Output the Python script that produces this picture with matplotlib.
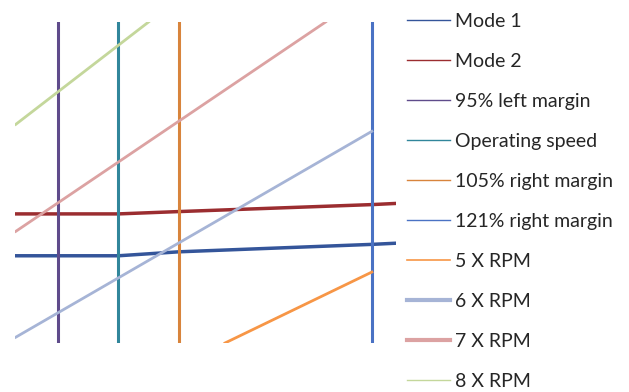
import matplotlib
matplotlib.use('Agg')
import matplotlib.pyplot as plt

# Campbell diagram data (speed in rpm, frequency in Hz)
mode_speed = [2745, 2850, 3000, 3150, 3630, 3690]
mode1_freq = [309.5, 309.5, 309.5, 311.2, 314.4, 314.9]
mode2_freq = [327.5, 327.5, 327.5, 328.5, 331.5, 332.0]

margin_labels = ["95% left margin", "Operating speed", "105% right margin", "121% right margin"]
margin_speed = [2850, 3000, 3150, 3630]

harm_labels = ["5 X RPM", "6 X RPM", "7 X RPM", "8 X RPM"]
harm_speed = [[3265, 3630], [2745, 3630], [2745, 3515], [2745, 3075]]
harm_freq = [[272.0, 302.5], [274.5, 363.0], [320.0, 410.0], [366.0, 410.0]]

freq_range = [272.0, 410.0]
speed_range = [2743, 3690]

mode_colors = ["#34559A", "#9B2D30"]
margin_colors = ["#5F4B8B", "#31869B", "#D8843C", "#4A72C4"]
harm_colors = ["#F79646", "#A6B4D6", "#DCA2A2", "#C4D79B"]

plt.rcParams['font.family'] = ['Lato', 'DejaVu Sans']

fig = plt.figure(figsize=(6.29, 3.92), dpi=100)
W, H = 629, 392
# plot area in pixels: x 15..396, y 22..343
ax = fig.add_axes([15 / W, (H - 343) / H, (396 - 15) / W, (343 - 22) / H])

ax.plot(mode_speed, mode1_freq, color=mode_colors[0], lw=2.5, label="Mode 1")
ax.plot(mode_speed, mode2_freq, color=mode_colors[1], lw=2.5, label="Mode 2")
for s, lab, c in zip(margin_speed, margin_labels, margin_colors):
    ax.plot([s, s], freq_range, color=c, lw=2.2, label=lab)
for xs, ys, lab, c in zip(harm_speed, harm_freq, harm_labels, harm_colors):
    ax.plot(xs, ys, color=c, lw=2.0, label=lab)

ax.set_xlim(speed_range)
ax.set_ylim(freq_range)
ax.axis('off')

leg = fig.legend(loc='upper left', bbox_to_anchor=(407 / W, 1 - 13 / H),
                 frameon=False, fontsize=14, handlelength=2.2, handletextpad=0.26,
                 labelspacing=1.18, borderaxespad=0, borderpad=0)
# legend line widths as in the original (thin, except 6X and 7X)
widths = [1, 1, 1, 1, 1, 1, 1.2, 3, 3, 1]
for ln, w in zip(leg.get_lines(), widths):
    ln.set_linewidth(w)
for t in leg.get_texts():
    t.set_color("#262626")

fig.savefig("out.png", dpi=100)
